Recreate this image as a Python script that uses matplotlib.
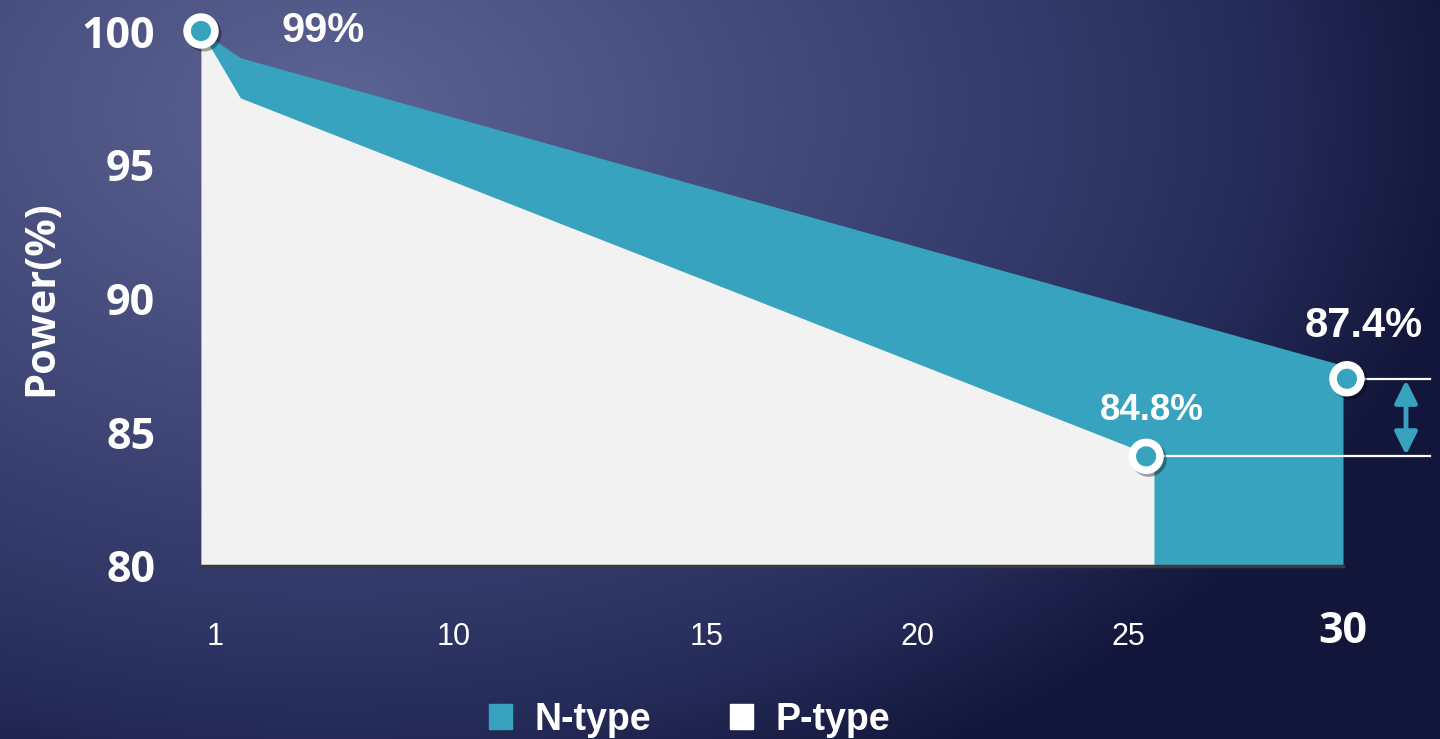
import numpy as np
import matplotlib.pyplot as plt
from matplotlib.colors import LinearSegmentedColormap
from matplotlib.patches import Patch
import matplotlib.patheffects as pe

# data
years_n = [1, 2, 30]
power_n = [100, 99, 87.5]
years_p = [1, 2, 25.2]
power_p = [100, 97.5, 84.1]

marker_years = [1, 25, 30.1]
marker_power = [100, 84.1, 87.0]
marker_labels = ["99%", "84.8%", "87.4%"]

y_ticks = [80, 85, 90, 95, 100]
x_tick_pos = [1.36, 7.41, 13.84, 19.2, 24.56, 30.0]
x_tick_labels = ["1", "10", "15", "20", "25", "30"]

TEAL = "#37a3be"
GREY = "#f2f2f2"
BOLD_FONT = "Open Sans"
ARIAL = "Liberation Sans"

fig = plt.figure(figsize=(14.4, 7.39), dpi=100)

# background radial gradient
bg = fig.add_axes([0, 0, 1, 1], zorder=-10)
h, w = 739, 1440
yy, xx = np.mgrid[0:h, 0:w]
d = np.sqrt(((xx - 330) / 1150.0) ** 2 + ((yy - 110) / 760.0) ** 2)
cmap = LinearSegmentedColormap.from_list(
    "bg", [(0, "#5c6493"), (0.45, "#3f4676"), (0.8, "#272d5b"), (1.0, "#12163a")])
bg.imshow(np.clip(d, 0, 1), cmap=cmap, vmin=0, vmax=1, aspect="auto")
bg.axis("off")

ax = fig.add_axes([201 / 1440, 1 - 566 / 739, 1142 / 1440, 535 / 739])
ax.set_facecolor("none")
ax.set_xlim(1, 30)
ax.set_ylim(80, 100)

ax.fill_between(years_n, power_n, 80, color=TEAL, lw=0, zorder=2)
ax.fill_between(years_p, power_p, 80, color=GREY, lw=0, zorder=3)

for s in ["top", "right", "left"]:
    ax.spines[s].set_visible(False)
ax.spines["bottom"].set_color("#3a3a3a")
ax.spines["bottom"].set_linewidth(2.5)
ax.spines["bottom"].set_zorder(5)

ax.set_yticks(y_ticks)
ax.set_yticklabels([str(v) for v in y_ticks], fontsize=31, fontweight="bold",
                   family=BOLD_FONT, color="white")
ax.tick_params(axis="y", length=0, pad=33)
ax.set_xticks([])
ax.set_ylabel("Power(%)", fontsize=30, fontweight="bold", family=BOLD_FONT,
              color="white", labelpad=14)

# x labels placed under the axis
for pos, lab in zip(x_tick_pos, x_tick_labels):
    if lab == "30":
        ax.annotate(lab, (pos, 0), xycoords=("data", "axes fraction"),
                    xytext=(0, -32), textcoords="offset points", ha="center", va="top",
                    fontsize=31, fontweight="bold", family=BOLD_FONT, color="white")
    else:
        ax.annotate(lab, (pos, 0), xycoords=("data", "axes fraction"),
                    xytext=(0, -40), textcoords="offset points", ha="center", va="top",
                    fontsize=22, family=ARIAL, color="white")

# reference lines and arrow on the right
ax.plot([marker_years[1], 32.2], [marker_power[1]] * 2, color="white", lw=1.6,
        clip_on=False, zorder=4)
ax.plot([marker_years[2], 32.2], [marker_power[2]] * 2, color="white", lw=1.6,
        clip_on=False, zorder=4)
ax.annotate("", xy=(31.6, marker_power[1] + 0.05), xytext=(31.6, marker_power[2] - 0.05),
            arrowprops=dict(arrowstyle="<|-|>", color=TEAL, lw=3.5,
                            mutation_scale=34, shrinkA=0, shrinkB=0),
            annotation_clip=False, zorder=4)

# markers
ax.plot(marker_years, marker_power, ls="none", marker="o", ms=20, mew=5.5,
        mfc=TEAL, mec="white", clip_on=False, zorder=6,
        path_effects=[pe.SimpleLineShadow(offset=(2, -2), shadow_color="black", alpha=0.35),
                      pe.Normal()])

label_offsets = [(88, 0), (4, 33), (12, 38)]
label_sizes = [30, 26.5, 30]
for x, y, lab, off, fs in zip(marker_years, marker_power, marker_labels,
                              label_offsets, label_sizes):
    ax.annotate(lab, (x, y), xytext=off, textcoords="offset points", ha="center",
                va="center", fontsize=fs, fontweight="bold", family=ARIAL,
                color="white", annotation_clip=False, zorder=7)

handles = [Patch(color=TEAL, label="N-type"), Patch(color="white", label="P-type")]
fig.legend(handles=handles, loc="center", bbox_to_anchor=(0.479, 0.026), ncol=2,
           frameon=False, prop={"family": ARIAL, "weight": "bold", "size": 27},
           labelcolor="white", handlelength=0.62, handleheight=0.62,
           handletextpad=0.6, columnspacing=2.1)

fig.savefig("out.png", dpi=100)
